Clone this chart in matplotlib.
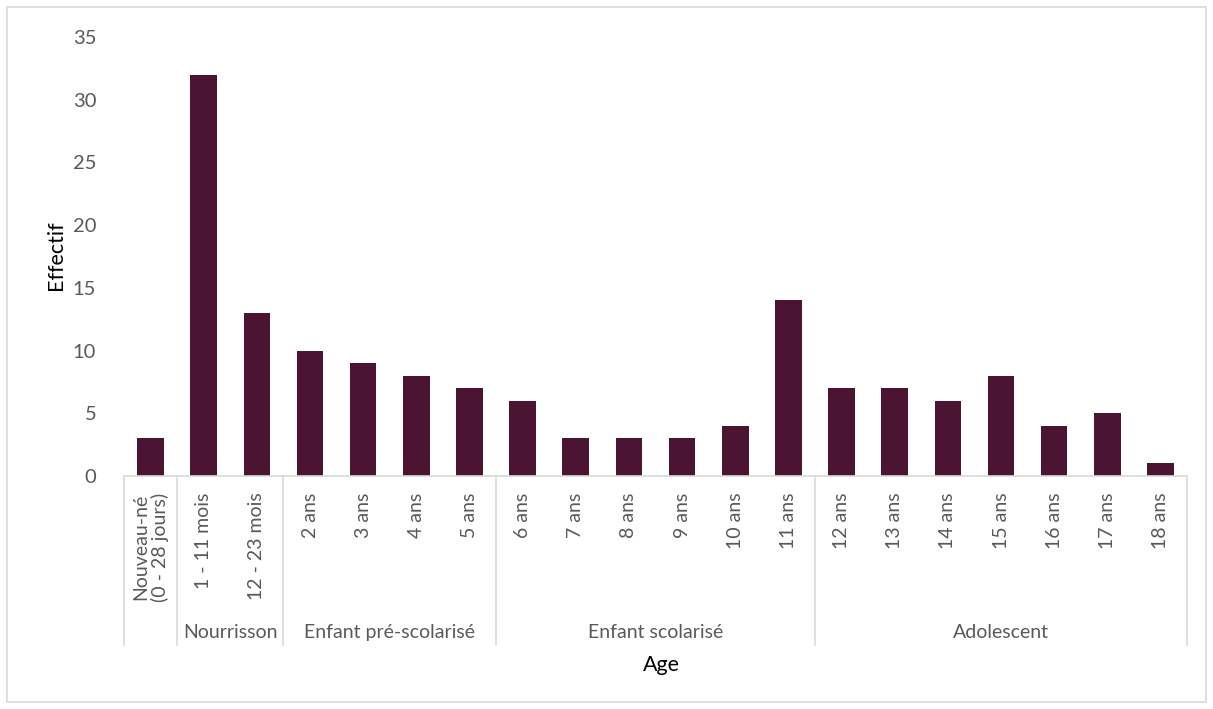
import matplotlib
matplotlib.use("Agg")
import matplotlib.pyplot as plt
from matplotlib.patches import Rectangle
import matplotlib.transforms as mtransforms

plt.rcParams['font.family'] = ['Lato', 'DejaVu Sans']

# data
ages = ['Nouveau-né\n(0 - 28 jours)', '1 - 11 mois', '12 - 23 mois',
        '2 ans', '3 ans', '4 ans', '5 ans',
        '6 ans', '7 ans', '8 ans', '9 ans', '10 ans', '11 ans',
        '12 ans', '13 ans', '14 ans', '15 ans', '16 ans', '17 ans', '18 ans']
effectif = [3, 32, 13, 10, 9, 8, 7, 6, 3, 3, 3, 4, 14, 7, 7, 6, 8, 4, 5, 1]
groups = ['', 'Nourrisson', 'Enfant pré-scolarisé', 'Enfant scolarisé', 'Adolescent']
group_sizes = [1, 2, 4, 6, 7]

barColor = '#4B1432'
gridGray = '#D9D9D9'
textGray = '#595959'

fig = plt.figure(figsize=(12.13, 7.09), dpi=100)
ax = fig.add_axes([0.1022, 0.3286, 0.8764, 0.6192])

x = list(range(len(ages)))
ax.bar(x, effectif, width=0.5, color=barColor)
ax.set_xlim(-0.5, len(ages) - 0.5)
ax.set_ylim(0, 35)
ax.set_yticks(range(0, 36, 5))

for s in ['top', 'right', 'left']:
    ax.spines[s].set_visible(False)
ax.spines['bottom'].set_color(gridGray)
ax.spines['bottom'].set_linewidth(1.2)

ax.set_xticks(x)
ax.set_xticklabels(ages, rotation=90, va='top', ha='center', fontsize=14,
                   color=textGray, linespacing=1.15)
ax.tick_params(axis='x', length=0, pad=12)
ax.tick_params(axis='y', length=0, pad=20, labelsize=14.5, labelcolor=textGray)

# group separators and labels
trans = mtransforms.blended_transform_factory(ax.transData, ax.transAxes)
start = -0.5
ax.plot([start, start], [0, -0.385], transform=trans, color=gridGray,
        lw=1.2, clip_on=False)
for name, size in zip(groups, group_sizes):
    end = start + size
    ax.plot([end, end], [0, -0.385], transform=trans, color=gridGray,
            lw=1.2, clip_on=False)
    ax.text((start + end) / 2, -0.357, name, transform=trans, ha='center',
            va='center', fontsize=14, color=textGray)
    start = end

fig.text(0.545, 0.062, 'Age', ha='center', va='center', fontsize=15.5, color='black')
fig.text(0.046, 0.64, 'Effectif', ha='center', va='center', rotation=90,
         fontsize=15.5, color='black')

# chart frame
fig.patches.append(Rectangle((0.006, 0.01), 0.988, 0.98, transform=fig.transFigure,
                             fill=False, edgecolor=gridGray, lw=1.2))

fig.savefig('out.png', dpi=100)
